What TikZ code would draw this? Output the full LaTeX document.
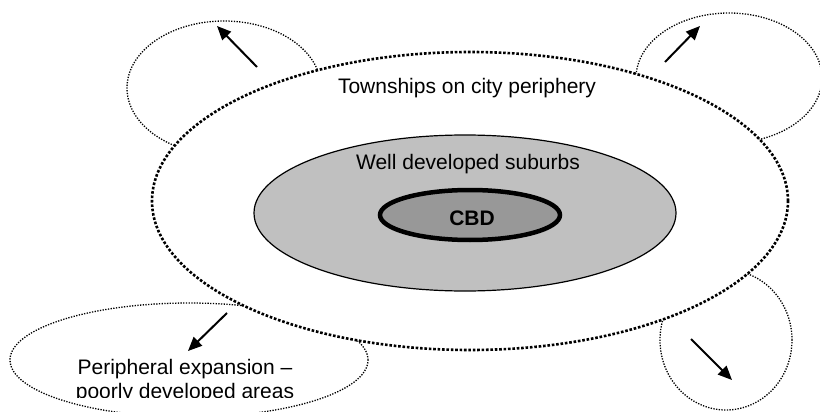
\documentclass[tikz,border=0pt]{standalone}
\usepackage{fontspec}
\setmainfont{Liberation Sans}
\usetikzlibrary{arrows.meta,shapes.geometric}
\definecolor{suburbgray}{RGB}{192,192,192}
\definecolor{cbdgray}{RGB}{152,152,152}
\begin{document}
\begin{tikzpicture}[x=1pt,y=-1pt,
  lbl/.style={font=\fontsize{21}{24}\selectfont, inner sep=0pt, anchor=base},
  boldlbl/.style={font=\fontsize{21}{24}\selectfont\bfseries, inner sep=0pt, anchor=base},
  bigdots/.style={line width=2.6pt, dash pattern=on 2.6pt off 1.8pt},
  smalldots/.style={line width=1.3pt, dash pattern=on 1.3pt off 1.4pt},
  arr/.style={line width=2pt, -{Triangle[length=14pt,width=12pt]}},
  zone/.style={ellipse, inner sep=0pt, outer sep=0pt}
]
\useasboundingbox (0,0) rectangle (820,412);
\fill[white] (0,0) rectangle (820,412);

% small expansion ellipses (behind)
\node[zone, draw, smalldots, minimum width=194pt, minimum height=134pt] (tl) at (224,88) {};
\node[zone, draw, smalldots, minimum width=186pt, minimum height=130pt] (tr) at (729,78) {};
\node[zone, draw, smalldots, minimum width=132pt, minimum height=140pt] (br) at (726,340) {};
\node[zone, draw, smalldots, minimum width=358pt, minimum height=114pt] (bl) at (189,360) {};

% townships
\node[zone, draw, bigdots, fill=white, minimum width=636pt, minimum height=298pt] (town) at (470,201) {};
% suburbs
\node[zone, draw, line width=1.2pt, fill=suburbgray, minimum width=422pt, minimum height=156pt] (sub) at (465,213) {};
% CBD
\node[zone, draw, line width=4.5pt, fill=cbdgray, minimum width=180pt, minimum height=50pt] (cbd) at (470,215) {};

% labels
\node[lbl] (townlbl) at (467,93) {Townships on city periphery};
\node[lbl] (sublbl) at (468,169) {Well developed suburbs};
\node[boldlbl] (cbdlbl) at (472,225) {CBD};
\node[lbl] (bllbl1) at (185,374) {Peripheral expansion –};
\begin{scope}
\clip (0,0) rectangle (820,397);
\node[lbl] (bllbl2) at (185,398) {poorly developed areas};
\end{scope}

% arrows
\coordinate (a1s) at (257,67); \coordinate (a1e) at (217,26);
\coordinate (a2s) at (665,62); \coordinate (a2e) at (700,26);
\coordinate (a3s) at (691,339); \coordinate (a3e) at (732,380);
\coordinate (a4s) at (227,313); \coordinate (a4e) at (188,351);
\draw[arr] (a1s) -- (a1e);
\draw[arr] (a2s) -- (a2e);
\draw[arr] (a3s) -- (a3e);
\draw[arr] (a4s) -- (a4e);
\end{tikzpicture}
\end{document}
